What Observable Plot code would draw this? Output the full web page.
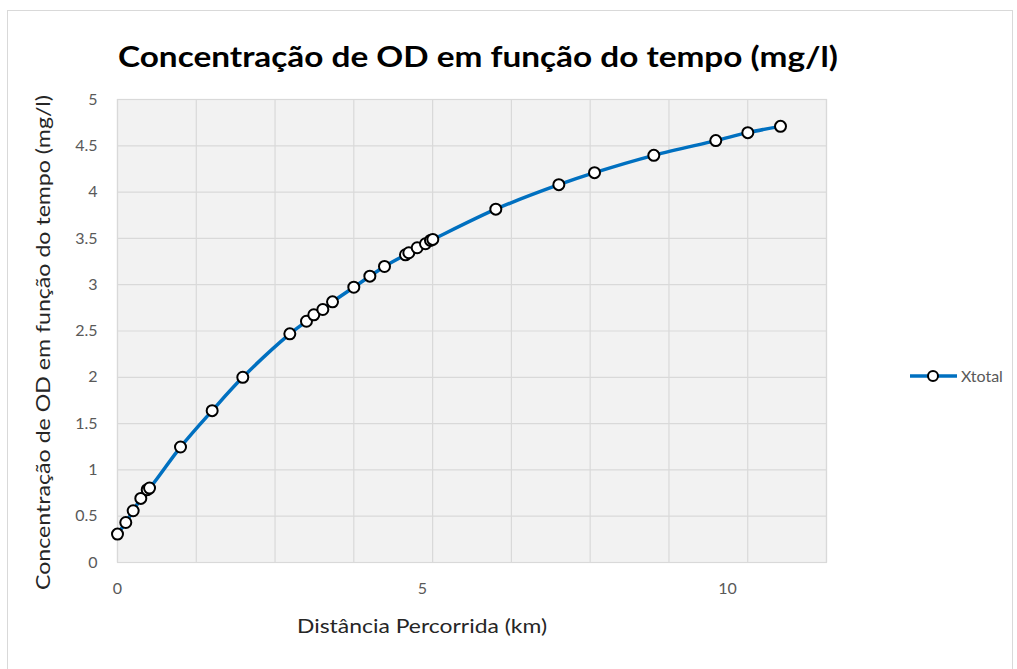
<!DOCTYPE html>
<html>
<head>
<meta charset="utf-8">
<script src="https://cdn.jsdelivr.net/npm/d3@7"></script>
<script src="https://cdn.jsdelivr.net/npm/@observablehq/plot@0.6"></script>
<style>
  html, body { margin: 0; padding: 0; background: #fff; }
  #chart { position: relative; width: 1017px; height: 669px; overflow: hidden; }
  #border { position: absolute; left: 7px; top: 10px; width: 1006px; height: 700px; border: 1.5px solid #d9d9d9; box-sizing: border-box; }
  #plot { position: absolute; left: 0; top: 0; }
</style>
</head>
<body>
<div id="chart"><div id="border"></div><div id="plot"></div></div>
<script>
const titleText = "Concentração de OD em função do tempo (mg/l)";
const xLabel = "Distância Percorrida (km)";
const yLabel = "Concentração de OD em função do tempo (mg/l)";
const seriesName = "Xtotal";

const distance = [0, 0.136, 0.257, 0.382, 0.487, 0.525, 1.033, 1.552, 2.054, 2.825, 3.098, 3.218, 3.366, 3.525, 3.874, 4.137, 4.377, 4.721, 4.776, 4.913, 5.049, 5.131, 5.169, 6.202, 7.235, 7.820, 8.792, 9.808, 10.333, 10.869];
const xtotal   = [0.307, 0.432, 0.559, 0.692, 0.786, 0.804, 1.247, 1.640, 2.000, 2.469, 2.605, 2.675, 2.732, 2.815, 2.973, 3.092, 3.197, 3.323, 3.345, 3.399, 3.442, 3.478, 3.489, 3.816, 4.080, 4.210, 4.397, 4.556, 4.642, 4.710];

const xTicks = [0, 5, 10];
const yTicks = [0, 0.5, 1, 1.5, 2, 2.5, 3, 3.5, 4, 4.5, 5];
const xMax = 11.623;
const xGridCount = 9;

const data = distance.map((d, i) => ({x: d, y: xtotal[i]}));
const xGrid = d3.range(xGridCount + 1).map(i => i * xMax / xGridCount);

const W = 1017, H = 669;
const M = {left: 117, right: 191, top: 99, bottom: 107};
const FONT = "Lato, 'Open Sans', sans-serif";

const plot = Plot.plot({
  width: W, height: H,
  marginLeft: M.left, marginRight: M.right, marginTop: M.top, marginBottom: M.bottom,
  style: {fontFamily: FONT, fontSize: "16px", color: "#595959", background: "transparent"},
  x: {domain: [0, xMax], ticks: xTicks, tickFormat: d => String(d), tickSize: 0, tickPadding: 20, label: null},
  y: {domain: [0, 5], ticks: yTicks, tickFormat: d => String(d), tickSize: 0, tickPadding: 20, label: null},
  marks: [
    Plot.frame({fill: "#f2f2f2", stroke: "none"}),
    Plot.gridX(xGrid, {stroke: "#d9d9d9", strokeOpacity: 1, strokeWidth: 1.2}),
    Plot.gridY(yTicks, {stroke: "#d9d9d9", strokeOpacity: 1, strokeWidth: 1.2}),
    Plot.frame({stroke: "#d9d9d9", strokeWidth: 1.2}),
    Plot.axisX({ticks: xTicks, tickFormat: d => String(d), tickSize: 0, tickPadding: 20, fontSize: 16, fill: "#595959", label: null}),
    Plot.axisY({ticks: yTicks, tickFormat: d => String(d), tickSize: 0, tickPadding: 20, fontSize: 16, fill: "#595959", label: null}),
    Plot.line(data, {x: "x", y: "y", stroke: "#0070c0", strokeWidth: 3.5, curve: "catmull-rom"}),
    Plot.dot(data, {x: "x", y: "y", r: 5.5, fill: "white", stroke: "black", strokeWidth: 2})
  ]
});
document.getElementById("plot").appendChild(plot);

const svg = d3.select(plot);
svg.append("text")
  .attr("x", 118).attr("y", 67)
  .attr("text-anchor", "start")
  .attr("textLength", 720).attr("lengthAdjust", "spacingAndGlyphs")
  .style("font-family", FONT).style("font-weight", "bold")
  .style("font-size", "29px").attr("fill", "#000")
  .text(titleText);
svg.append("text")
  .attr("x", 297).attr("y", 633)
  .attr("text-anchor", "start")
  .attr("textLength", 250).attr("lengthAdjust", "spacingAndGlyphs")
  .style("font-family", FONT)
  .style("font-size", "19px").attr("fill", "#262626")
  .text(xLabel);
svg.append("text")
  .attr("transform", "translate(50,342.5) rotate(-90)")
  .attr("text-anchor", "middle")
  .attr("textLength", 495).attr("lengthAdjust", "spacingAndGlyphs")
  .style("font-family", FONT)
  .style("font-size", "19px").attr("fill", "#262626")
  .text(yLabel);

// legend
const lg = svg.append("g");
lg.append("line").attr("x1", 910).attr("x2", 957).attr("y1", 376).attr("y2", 376)
  .attr("stroke", "#0070c0").attr("stroke-width", 3.5);
lg.append("circle").attr("cx", 933).attr("cy", 376).attr("r", 5)
  .attr("fill", "white").attr("stroke", "black").attr("stroke-width", 2);
lg.append("text").attr("x", 961).attr("y", 376).attr("dy", "0.35em")
  .attr("text-anchor", "start")
  .style("font-family", FONT).style("font-size", "16px")
  .attr("fill", "#595959").text(seriesName);
</script>
</body>
</html>
